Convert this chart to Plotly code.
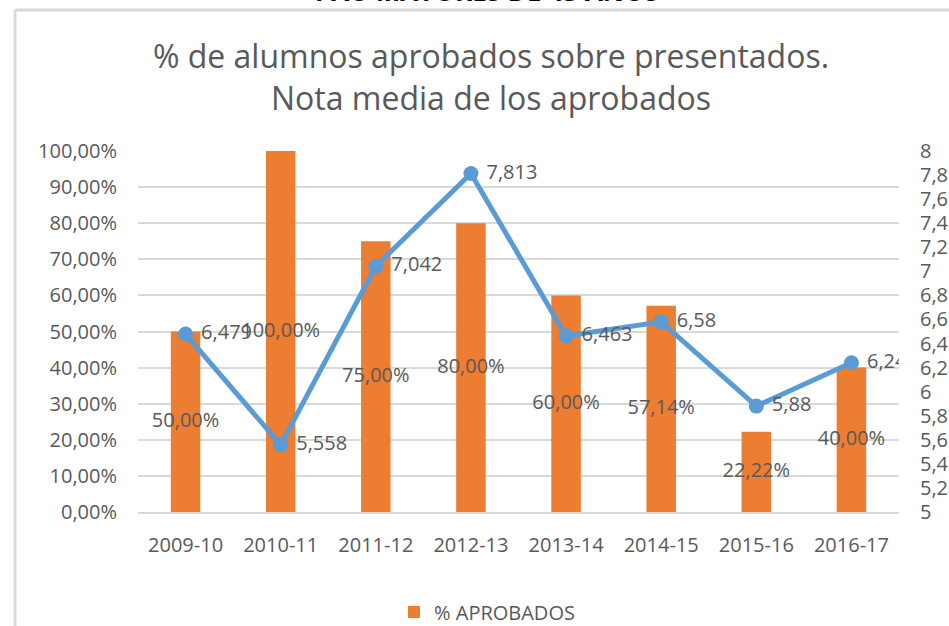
import plotly.graph_objects as go

cursos = ["2009-10", "2010-11", "2011-12", "2012-13", "2013-14", "2014-15", "2015-16", "2016-17"]
pct_aprobados = [0.50, 1.00, 0.75, 0.80, 0.60, 0.5714, 0.2222, 0.40]
nota_media = [6.479, 5.558, 7.042, 7.813, 6.463, 6.58, 5.88, 6.24]

TXT = "#595959"
FONT = "Open Sans"
W, H = 949, 626
L, R, T, B = 138, 50, 151, 114
PW, PH = W - L - R, H - T - B

def px_x(p):
    return (p - L) / PW

def px_y(p):
    return (H - B - p) / PH

bar_labels = [f"{v*100:.2f}%".replace(".", ",") for v in pct_aprobados]
line_labels = [" " + str(v).replace(".", ",") for v in nota_media]

fig = go.Figure()
fig.add_trace(go.Bar(
    x=cursos, y=pct_aprobados, name="% APROBADOS",
    marker=dict(color="#ed7d31", line=dict(width=0)),
    width=0.31, yaxis="y", showlegend=True,
))
fig.add_trace(go.Scatter(
    x=cursos, y=nota_media, name="NOTA MEDIA", yaxis="y2",
    mode="lines+markers+text",
    line=dict(color="#5b9bd5", width=5),
    marker=dict(color="#5b9bd5", size=15),
    text=line_labels, textposition="middle right",
    textfont=dict(family=FONT, size=20, color=TXT),
    showlegend=False,
))
fig.add_trace(go.Scatter(
    x=cursos, y=[v / 2 for v in pct_aprobados], yaxis="y",
    mode="text", text=bar_labels, textposition="middle center",
    textfont=dict(family=FONT, size=20, color=TXT),
    showlegend=False, hoverinfo="skip",
))

fig.update_layout(
    width=W, height=H,
    margin=dict(l=L, r=R, t=T, b=B, autoexpand=False),
    paper_bgcolor="white", plot_bgcolor="white",
    separators=",.",
    font=dict(family=FONT, color=TXT, size=20),
    title=dict(
        text="% de alumnos aprobados sobre presentados.<br>Nota media de los aprobados",
        x=491 / W, xanchor="center", xref="container",
        y=1 - 68 / H, yanchor="middle", yref="container",
        font=dict(family=FONT, size=32, color=TXT),
    ),
    xaxis=dict(
        type="category", automargin=False,
        showgrid=False, showline=True, linecolor="#d9d9d9", linewidth=2,
        ticks="", tickfont=dict(family=FONT, size=20, color=TXT),
        ticklabelstandoff=14,
    ),
    yaxis=dict(
        range=[0, 1], dtick=0.1, tickformat=".2%", automargin=False,
        showgrid=True, gridcolor="#d9d9d9", gridwidth=2,
        zeroline=False, showline=False, ticks="",
        tickfont=dict(family=FONT, size=20, color=TXT),
        ticklabelstandoff=20,
    ),
    yaxis2=dict(
        range=[5, 8], dtick=0.2, overlaying="y", side="right", automargin=False,
        showgrid=False, zeroline=False, showline=False, ticks="",
        tickfont=dict(family=FONT, size=20, color=TXT),
        ticklabelstandoff=20,
    ),
    legend=dict(
        orientation="h", x=px_x(487), xanchor="center",
        y=px_y(612), yanchor="middle",
        font=dict(family=FONT, size=20, color=TXT),
        bgcolor="rgba(0,0,0,0)",
    ),
    shapes=[
        dict(type="line", xref="paper", yref="paper",
             x0=px_x(15), x1=px_x(W + 20), y0=px_y(10), y1=px_y(10),
             line=dict(color="#d9d9d9", width=3)),
        dict(type="line", xref="paper", yref="paper",
             x0=px_x(15), x1=px_x(15), y0=px_y(10), y1=px_y(H + 10),
             line=dict(color="#d9d9d9", width=3)),
    ],
    annotations=[
        dict(text="<b>PAU MAYORES DE 45 AÑOS</b>", xref="paper", yref="paper",
             x=px_x(487), y=px_y(11), xanchor="center", yanchor="bottom",
             showarrow=False, font=dict(family=FONT, size=26, color="black")),
    ],
)

fig.write_html(
    "out.html",
    config={"displayModeBar": False},
    post_script="document.body.style.margin='0';document.body.style.overflow='hidden';",
)
